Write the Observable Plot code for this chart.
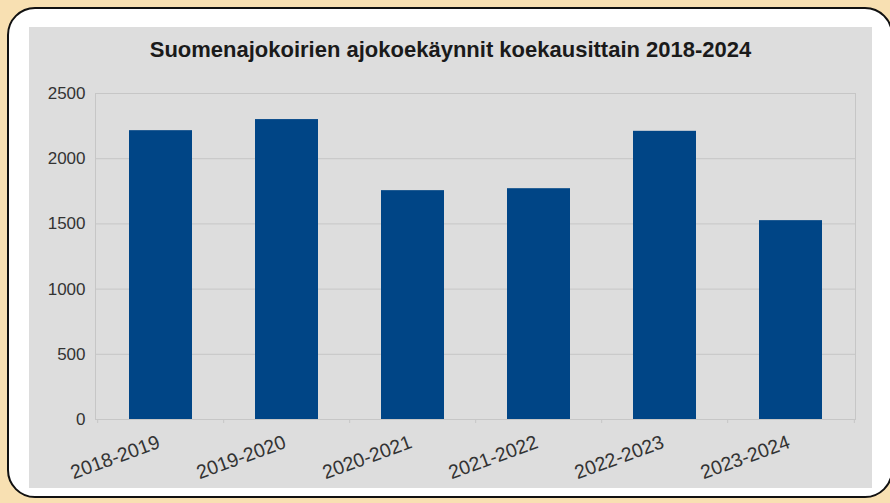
<!DOCTYPE html>
<html>
<head>
<meta charset="utf-8">
<script src="https://cdn.jsdelivr.net/npm/d3@7"></script>
<script src="https://cdn.jsdelivr.net/npm/@observablehq/plot@0.6"></script>
<style>
  html, body { margin: 0; padding: 0; }
  body { width: 890px; height: 503px; overflow: hidden; position: relative; background: #f8e0b2; font-family: "Liberation Sans", Arial, sans-serif; }
  #panel { position: absolute; left: 7px; top: 7px; width: 886px; height: 491px; box-sizing: border-box; border: 2px solid #111; border-radius: 28px; background: #fff; }
  #chart { position: absolute; left: 29px; top: 27px; width: 843px; height: 461px; background: #dddddd; }
  #title { position: absolute; left: 0; top: 10px; width: 100%; text-align: center; font-weight: bold; font-size: 22px; line-height: 26px; color: #1a1a1a; }
  #plot { position: absolute; left: 0; top: 50px; }
</style>
</head>
<body>
<div id="panel"></div>
<div id="chart">
  <div id="title">Suomenajokoirien ajokoekäynnit koekausittain 2018-2024</div>
  <div id="plot"></div>
</div>
<script>
const categories = ["2018-2019", "2019-2020", "2020-2021", "2021-2022", "2022-2023", "2023-2024"];
const values = [2215, 2300, 1755, 1770, 2210, 1525];
const yTicks = [0, 500, 1000, 1500, 2000, 2500];

const data = categories.map((c, i) => ({season: c, count: values[i]}));

const W = 843, H = 411, mL = 66, mR = 17, mT = 16, mB = 69;
const step = (W - mL - mR) / categories.length;
const gridColor = "#c6c6c6";

const chart = Plot.plot({
  width: W, height: H,
  marginTop: mT, marginLeft: mL, marginRight: mR, marginBottom: mB,
  style: {background: "transparent", fontFamily: "Liberation Sans, Arial, sans-serif", color: "#333", overflow: "visible"},
  x: {domain: categories, paddingInner: 0.5, paddingOuter: 0.25, label: null},
  y: {domain: [0, 2500], label: null},
  marks: [
    Plot.ruleY(yTicks, {stroke: gridColor, strokeWidth: 1}),
    Plot.frame({stroke: gridColor, strokeWidth: 1}),
    Plot.ruleX(categories, {x: d => d, y1: 0, y2: 0, insetBottom: -4, dx: -step / 2, stroke: gridColor}),
    Plot.ruleX(categories.slice(-1), {x: d => d, y1: 0, y2: 0, insetBottom: -4, dx: step / 2, stroke: gridColor}),
    Plot.barY(data, {x: "season", y: "count", fill: "#004586"}),
    Plot.axisY(yTicks, {tickSize: 0, tickPadding: 10, tickFormat: "d", fontSize: 17, fill: "#333"}),
    Plot.axisX({tickSize: 0, tickPadding: 22, tickRotate: -20, textAnchor: "end", dx: -2, fontSize: 19.5, fill: "#333"})
  ]
});
document.getElementById("plot").appendChild(chart);
</script>
</body>
</html>
